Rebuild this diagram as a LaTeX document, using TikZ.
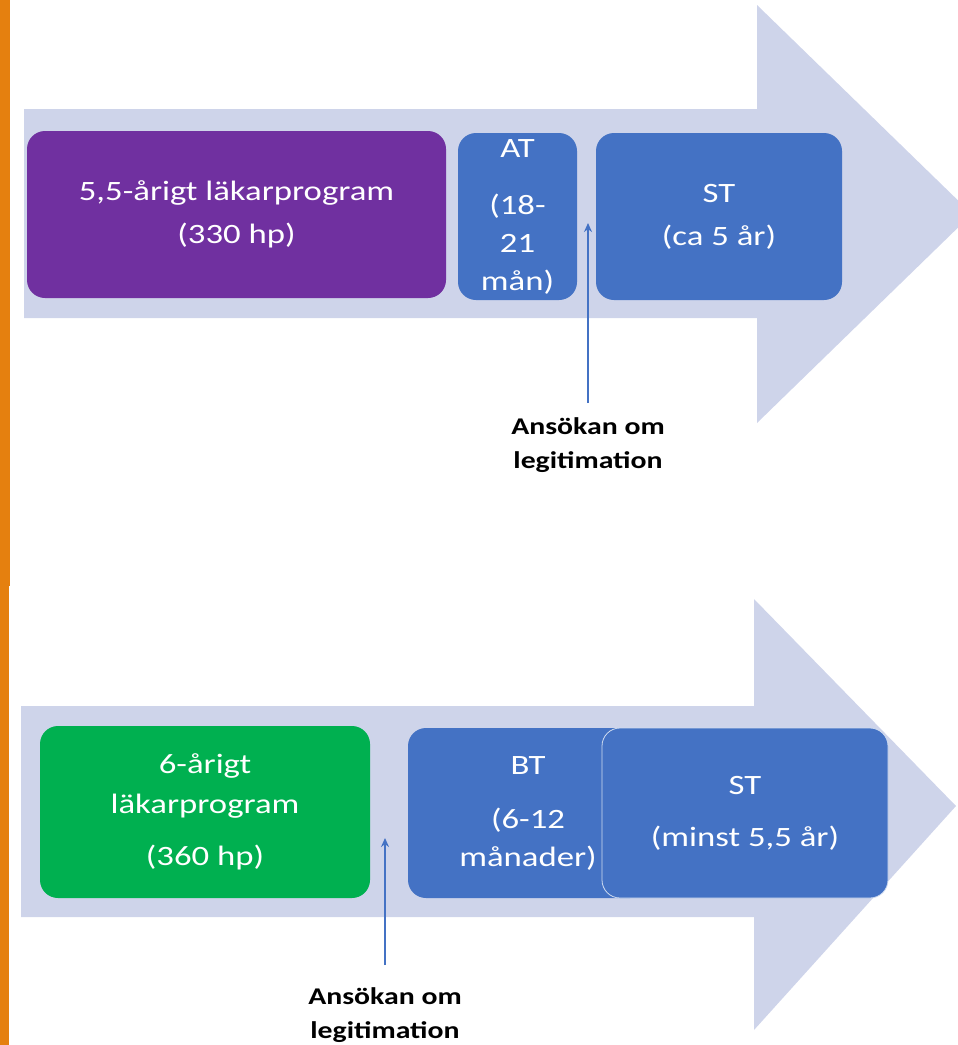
\documentclass[tikz,border=0pt]{standalone}
\usepackage{fontspec}
\setmainfont{Carlito}[FakeStretch=1.24]
\usepackage{tikz}
\usetikzlibrary{arrows.meta,calc}
\definecolor{pathfill}{HTML}{CED4EA}
\definecolor{lpurple}{HTML}{7030A0}
\definecolor{lblue}{HTML}{4472C4}
\definecolor{lgreen}{HTML}{00B050}
\definecolor{sideorange}{HTML}{E5800F}
\tikzset{
  stage/.style={rounded corners=18pt, text=white, align=center, inner sep=0pt,
    font=\fontsize{28}{38}\selectfont},
  legit/.style={align=center, inner sep=0pt, anchor=north,
    font=\bfseries\fontsize{24}{34}\selectfont},
  pointer/.style={-{Stealth[length=9pt,width=8pt]}, draw=lblue, line width=1.8pt}
}

\begin{document}
\begin{tikzpicture}[x=1pt,y=-1pt]
\useasboundingbox (0,0) rectangle (958,1045);
\begin{scope}
\clip (0,0) rectangle (958,1045);
\fill[pathfill] (24,109) -- (757,109) -- (757,5) -- (972,214) -- (757,423) -- (757,318) -- (24,318) -- cycle;
\fill[pathfill] (21,706) -- (754,706) -- (754,599) -- (956,806) -- (754,1030) -- (754,917) -- (21,917) -- cycle;
\end{scope}
\fill[sideorange] (0,0) rectangle (10,586);
\fill[sideorange] (0,586) rectangle (9,1045);

\node[stage, fill=lpurple, minimum width=419pt, minimum height=167pt] (lak55) at (236.5,214.5) {5,5-årigt läkarprogram\\[5pt](330 hp)};
\node[stage, fill=lblue, minimum width=119pt, minimum height=167pt] (at) at (517.5,216.5) {AT\\[19pt](18-\\21\\mån)};
\node[stage, fill=lblue, minimum width=246pt, minimum height=167pt] (st1) at (719,216.5) {ST\\[5pt](ca 5 år)};
\coordinate (tipA) at (588,223);
\node[legit] (legA) at (588,417.5) {Ansökan om\\legitimation};
\draw[pointer, shorten <=14.5pt] (legA.north) -- (tipA);

\node[stage, fill=lgreen, minimum width=330pt, minimum height=172pt] (lak6) at (205,812) {6-årigt\\[2pt]läkarprogram\\[14pt](360 hp)};
\node[stage, fill=lblue, minimum width=240pt, minimum height=170pt] (bt) at (528,813) {BT\\[16pt](6-12\\månader)};
\node[stage, fill=lblue, draw=white!75!lblue, line width=0.8pt, minimum width=286pt, minimum height=170pt] (st2) at (745,813) {ST\\[14pt](minst 5,5 år)};
\coordinate (tipB) at (385,838);
\node[legit] (legB) at (385,987) {Ansökan om\\legitimation};
\draw[pointer, shorten <=22pt] (legB.north) -- (tipB);
\end{tikzpicture}
\end{document}
